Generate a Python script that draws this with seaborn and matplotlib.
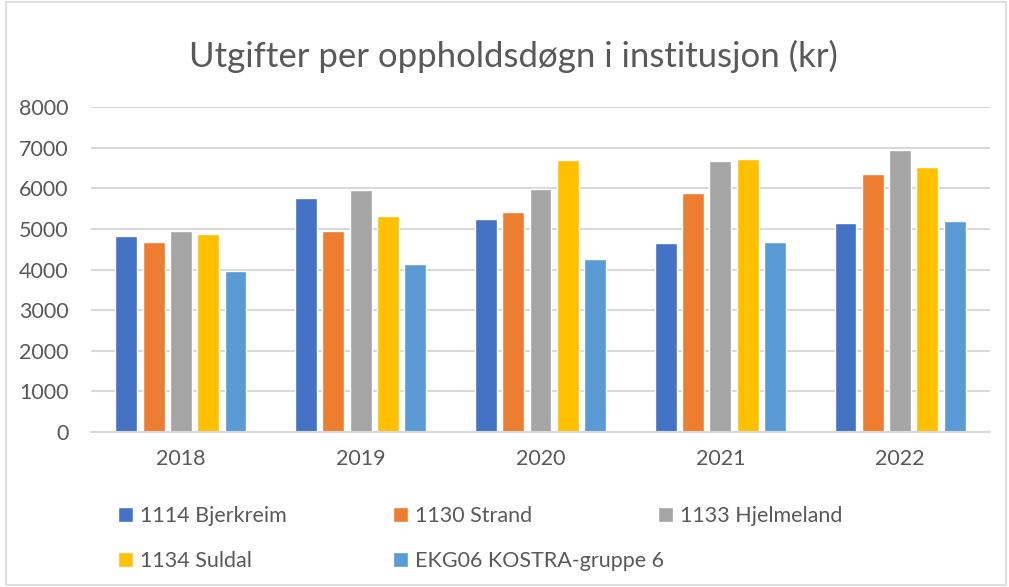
import pandas as pd
import matplotlib.pyplot as plt
import seaborn as sns
from matplotlib.patches import Rectangle

years = ["2018", "2019", "2020", "2021", "2022"]
bjerkreim = [4830, 5765, 5250, 4655, 5150]
strand = [4680, 4950, 5420, 5890, 6360]
hjelmeland = [4950, 5960, 5990, 6680, 6950]
suldal = [4880, 5320, 6700, 6730, 6530]
kostra = [3960, 4140, 4260, 4680, 5200]

series_names = ["1114 Bjerkreim", "1130 Strand", "1133 Hjelmeland", "1134 Suldal", "EKG06 KOSTRA-gruppe 6"]
colors = ["#4472c4", "#ed7d31", "#a5a5a5", "#ffc000", "#5b9bd5"]

rows = []
for name, vals in zip(series_names, [bjerkreim, strand, hjelmeland, suldal, kostra]):
    for y, v in zip(years, vals):
        rows.append({"year": y, "kommune": name, "value": v})
df = pd.DataFrame(rows)

sns.set_style("white")
plt.rcParams["font.family"] = ["Lato", "DejaVu Sans"]

fig = plt.figure(figsize=(10.09, 5.87), dpi=100)
ax = fig.add_axes([91 / 1009, 1 - 432 / 587, 899 / 1009, 325 / 587])

sns.barplot(data=df, x="year", y="value", hue="kommune", hue_order=series_names,
            palette=colors, width=0.76, gap=0.2, saturation=1, ax=ax, legend=True)

ax.set_ylim(0, 8000)
ax.set_yticks(range(0, 8001, 1000))
ax.set_xlabel("")
ax.set_ylabel("")
ax.grid(axis="y", color="#d9d9d9", linewidth=1.5)
ax.set_axisbelow(True)
for s in ["top", "right", "left"]:
    ax.spines[s].set_visible(False)
ax.spines["bottom"].set_color("#d9d9d9")
ax.spines["bottom"].set_linewidth(1.5)
ax.tick_params(axis="both", length=0, labelsize=15.5, labelcolor="#595959")
ax.tick_params(axis="y", pad=16)
ax.tick_params(axis="x", pad=12)

fig.suptitle("Utgifter per oppholdsdøgn i institusjon (kr)", x=0.509, y=1 - 56 / 587, va="center",
             fontsize=25, color="#595959")

handles, labels = ax.get_legend_handles_labels()
ax.get_legend().remove()
# Excel-style legend: three equally spaced columns, filled row by row
col_x = [118, 393, 658]
col_items = [[0, 3], [1, 4], [2]]
for x, items in zip(col_x, col_items):
    fig.legend([handles[i] for i in items], [labels[i] for i in items],
               loc="upper left", bbox_to_anchor=(x / 1009, 1 - 506 / 587),
               frameon=False, fontsize=15.5, labelcolor="#595959", handlelength=0.7, handleheight=0.7,
               handletextpad=0.3, labelspacing=1.15, borderaxespad=0, borderpad=0)

fig.add_artist(Rectangle((6 / 1009, 2 / 587), 1000 / 1009, 583 / 587, transform=fig.transFigure,
                         fill=False, edgecolor="#d9d9d9", linewidth=1.2))

fig.savefig("out.png", dpi=100)
